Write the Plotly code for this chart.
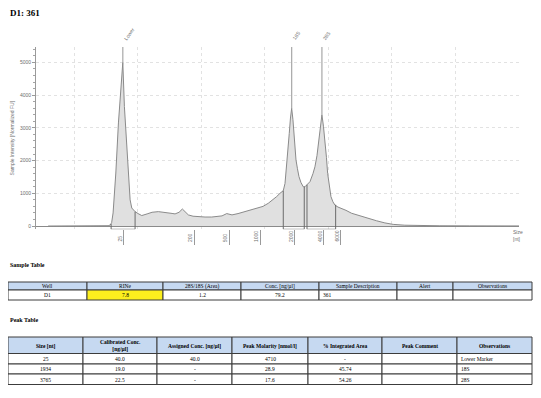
import plotly.graph_objects as go

# ---------------- data ----------------
# migration position (arbitrary run units, gridlines every unit) and intensity [FU]
pos = [-0.409, 0.409, 0.535, 0.566, 0.590, 0.613, 0.656, 0.697, 0.739, 0.766,
       0.791, 0.829, 0.854, 0.881, 0.907, 0.959, 1.006, 1.064, 1.148, 1.226,
       1.325, 1.458, 1.541, 1.588, 1.651, 1.703, 1.745, 1.797, 1.871, 1.954,
       2.060, 2.165, 2.264, 2.327, 2.401, 2.437, 2.484, 2.579, 2.689, 2.799,
       2.898, 2.972, 3.055, 3.113, 3.187, 3.239, 3.291, 3.318, 3.344, 3.365,
       3.385, 3.404, 3.423, 3.443, 3.459, 3.475, 3.491, 3.514, 3.538, 3.569,
       3.605, 3.632, 3.664, 3.711, 3.758, 3.789, 3.821, 3.852, 3.876, 3.899,
       3.923, 3.947, 3.970, 3.989, 4.017, 4.041, 4.072, 4.104, 4.151, 4.209,
       4.277, 4.366, 4.497, 4.623, 4.759, 4.890, 5.020, 5.204, 5.388, 5.755,
       6.226, 7.000]
fu = [0, 5, 10, 30, 100, 400, 1620, 3150, 4460, 5000,
      3650, 2320, 1400, 800, 550, 440, 380, 320, 370, 420,
      440, 420, 385, 370, 420, 520, 450, 340, 300, 285,
      275, 275, 290, 310, 380, 360, 340, 380, 440, 490,
      540, 600, 695, 780, 900, 1000, 1080, 1300, 1810, 2300,
      2830, 3300, 3600, 3250, 2830, 2400, 2020, 1750, 1510, 1330,
      1200, 1200, 1260, 1355, 1600, 1810, 2150, 2630, 3050, 3400,
      3050, 2630, 2100, 1610, 1200, 900, 740, 640, 580, 540,
      480, 390, 310, 240, 160, 95, 50, 25, 15, 8,
      5, 3]

# size ladder ticks
size_labels = ["25", "200", "500", "1000", "2000", "4000", "6000"]
size_pos = [0.770, 1.887, 2.442, 2.925, 3.475, 3.931, 4.193]

# called peaks
peak_names = ["Lower", "18S", "28S"]
peak_pos = [0.766, 3.423, 3.899]
peak_fu = [5000, 3600, 3400]

# integration regions: start, end and curve height at each edge
reg_start = [0.582, 3.291, 3.664]
reg_end = [0.959, 3.621, 4.115]
reg_start_fu = [60, 1080, 1260]
reg_end_fu = [440, 1200, 650]

y_min, y_max = -100, 5470

# tables
sample_cols = ["Well", "RINe", "28S/18S (Area)", "Conc. [ng/µl]",
               "Sample Description", "Alert", "Observations"]
sample_vals = ["D1", "7.8", "1.2", "79.2", "361", "", ""]

peak_cols = ["Size [nt]", "Calibrated Conc.<br>[ng/µl]", "Assigned Conc. [ng/µl]",
             "Peak Molarity [nmol/l]", "% Integrated Area", "Peak Comment", "Observations"]
pk_size = ["25", "1934", "3765"]
pk_calib = ["40.0", "19.0", "22.5"]
pk_assigned = ["40.0", "-", "-"]
pk_molarity = ["4710", "28.9", "17.6"]
pk_area = ["-", "45.74", "54.26"]
pk_comment = ["", "", ""]
pk_obs = ["Lower Marker", "18S", "28S"]

# ---------------- figure ----------------
# the page body has an 8 px default margin; size the figure to fill the rest
OFF = 8
W, H = 541 - OFF, 398 - OFF
def px_x(p):
    return (p - OFF) / W
def px_y(p):
    return 1 - (p - OFF) / H

GREY_TXT = "#6e6e6e"
SERIF = "Liberation Serif"
SANS = "Liberation Sans"
HEAD_FILL = "#c6d9f1"
BORDER = "#3c3c3c"

fig = go.Figure()

fig.add_trace(go.Scatter(
    x=pos, y=fu, mode="lines", fill="tozeroy",
    fillcolor="#e0e0e0", line=dict(color="#8a8a8a", width=1),
    hoverinfo="skip", showlegend=False))

for s, e, sf, ef in zip(reg_start, reg_end, reg_start_fu, reg_end_fu):
    fig.add_trace(go.Scatter(
        x=[s, s, e, e], y=[sf, y_min, y_min, ef], mode="lines",
        line=dict(color="#6b6b6b", width=1), hoverinfo="skip", showlegend=False))

for p, v in zip(peak_pos, peak_fu):
    fig.add_trace(go.Scatter(
        x=[p, p], y=[v, y_max], mode="lines",
        line=dict(color="#a8a8a8", width=1.2), hoverinfo="skip", showlegend=False))

shapes = []
annotations = []


def draw_table(col_edges, row_edges, header, columns, aligns, fills, bold_header):
    """Lay out a simple bordered table in paper space (pixel edges)."""
    n_rows = len(row_edges) - 1
    for r in range(n_rows):
        for c in range(len(col_edges) - 1):
            x0, x1 = col_edges[c], col_edges[c + 1]
            y0, y1 = row_edges[r], row_edges[r + 1]
            fill = HEAD_FILL if r == 0 else fills[c][r - 1]
            shapes.append(dict(
                type="rect", xref="paper", yref="paper",
                x0=px_x(x0), x1=px_x(x1), y0=px_y(y1), y1=px_y(y0),
                fillcolor=fill, line=dict(color=BORDER, width=1), layer="above"))
            txt = header[c] if r == 0 else columns[c][r - 1]
            if txt == "":
                continue
            if r == 0 and bold_header:
                txt = "<b>%s</b>" % txt
            al = "center" if r == 0 else aligns[c]
            xa = x0 + 2 if al == "left" else (x0 + x1) / 2
            annotations.append(dict(
                text=txt, x=px_x(xa), y=px_y((y0 + y1) / 2 + 0.3),
                xref="paper", yref="paper", xanchor=al, yanchor="middle",
                showarrow=False, align="center",
                font=dict(family=SERIF, size=5.5, color="black")))


draw_table([8, 87, 163, 241, 319, 397, 453, 532], [282, 290, 300],
           sample_cols, [[v] for v in sample_vals],
           ["center", "center", "center", "center", "left", "center", "center"],
           [["white"], ["#fcef1e"], ["white"], ["white"], ["white"], ["white"], ["white"]],
           False)

draw_table([8, 83, 157, 232, 308, 382, 457, 532], [337, 353.5, 364, 374, 384.5],
           peak_cols,
           [pk_size, pk_calib, pk_assigned, pk_molarity, pk_area, pk_comment, pk_obs],
           ["center", "center", "center", "center", "center", "center", "left"],
           [["white"] * 3] * 7,
           True)

annotations += [
    dict(text="<b>D1: 361</b>", x=px_x(8), y=px_y(13), xref="paper", yref="paper",
         xanchor="left", yanchor="middle", showarrow=False,
         font=dict(family=SERIF, size=9, color="black")),
    dict(text="<b>Sample Table</b>", x=px_x(8), y=px_y(265), xref="paper", yref="paper",
         xanchor="left", yanchor="middle", showarrow=False,
         font=dict(family=SERIF, size=6, color="black")),
    dict(text="<b>Peak Table</b>", x=px_x(8), y=px_y(320), xref="paper", yref="paper",
         xanchor="left", yanchor="middle", showarrow=False,
         font=dict(family=SERIF, size=6, color="black")),
    dict(text="Size<br>[nt]", x=px_x(511), y=px_y(227), xref="paper", yref="paper",
         xanchor="left", yanchor="top", align="left", showarrow=False,
         font=dict(family=SANS, size=5, color=GREY_TXT)),
]
for lab, p in zip(size_labels, size_pos):
    annotations.append(dict(
        text=lab, x=p, xref="x", y=px_y(244), yref="paper", xshift=-3.5,
        xanchor="center", yanchor="bottom", textangle=-90, showarrow=False,
        font=dict(family=SANS, size=5, color=GREY_TXT)))
for name, p in zip(peak_names, peak_pos):
    annotations.append(dict(
        text=name, x=p, xref="x", y=1, yref="y domain", xshift=-3, yshift=3,
        xanchor="left", yanchor="bottom", textangle=-55, showarrow=False,
        font=dict(family=SANS, size=5, color=GREY_TXT)))

fig.update_layout(
    width=W, height=H, autosize=False,
    margin=dict(l=0, r=0, t=0, b=0),
    paper_bgcolor="white", plot_bgcolor="white",
    showlegend=False,
    shapes=shapes,
    annotations=annotations,
    xaxis=dict(
        domain=[px_x(36), px_x(519)], range=[-0.6, 7.0],
        tickmode="array", tickvals=size_pos, ticktext=size_labels,
        showticklabels=False, ticks="outside", ticklen=15, tickcolor="#9a9a9a",
        tickwidth=1, showgrid=False, zeroline=False, showline=False,
        minor=dict(tickmode="linear", tick0=0, dtick=1, showgrid=True,
                   gridcolor="#e2e2e2", griddash="dot", gridwidth=1, ticks=""),
    ),
    yaxis=dict(
        domain=[px_y(229.3), px_y(47)], range=[y_min, y_max],
        tickmode="linear", tick0=0, dtick=1000,
        showgrid=True, gridcolor="#e2e2e2", griddash="dot", gridwidth=1,
        zeroline=True, zerolinecolor="#8a8a8a", zerolinewidth=1,
        showline=True, linecolor="#9a9a9a", linewidth=1,
        ticks="outside", ticklen=3, tickcolor="#9a9a9a",
        tickfont=dict(family=SANS, size=5, color=GREY_TXT),
        minor=dict(dtick=200, ticks="outside", ticklen=2, tickcolor="#a5a5a5",
                   showgrid=False),
        title=dict(text="Sample Intensity [Normalized FU]", standoff=5,
                   font=dict(family=SANS, size=5, color=GREY_TXT)),
    ),
)

fig.write_html("out.html")
